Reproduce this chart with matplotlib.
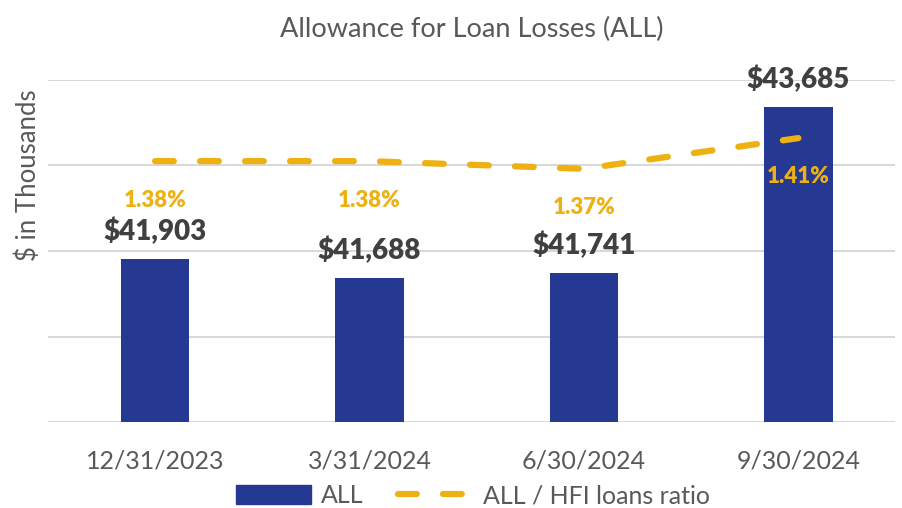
import matplotlib.pyplot as plt
import matplotlib.ticker as ticker
from matplotlib.lines import Line2D
from matplotlib.patches import Patch

plt.rcParams['font.family'] = ['Lato', 'DejaVu Sans']

# Data
dates = ['12/31/2023', '3/31/2024', '6/30/2024', '9/30/2024']
all_values = [41903, 41688, 41741, 43685]
ratio_values = [1.38, 1.38, 1.37, 1.41]
ratio_labels = ['1.38%', '1.38%', '1.37%', '1.41%']

bar_color = '#253993'
line_color = '#EDB112'
text_gray = '#595959'
label_dark = '#404040'

fig = plt.figure(figsize=(9.03, 5.08), dpi=100)
ax = fig.add_axes([0.053, 0.169, 0.938, 0.674])

x = list(range(len(dates)))
ax.bar(x, all_values, width=0.32, color=bar_color, zorder=2)
ax.set_ylim(40000, 44000)
ax.set_xlim(-0.5, 3.45)
ax.yaxis.set_major_locator(ticker.MultipleLocator(1000))
ax.grid(axis='y', color='#d9d9d9', linewidth=1.5, zorder=0)
ax.set_xticks(x)
ax.set_xticklabels(dates)
for s in ax.spines.values():
    s.set_visible(False)
ax.set_ylabel('$ in Thousands', fontsize=18.5, color=text_gray)
ax.yaxis.set_label_coords(-0.008, 0.72)
ax.set_title('Allowance for Loan Losses (ALL)', fontsize=19.5, color=text_gray, pad=31)

for xi, v in zip(x, all_values):
    ax.annotate('${:,.0f}'.format(v), (xi, v), xytext=(0, 10), textcoords='offset points',
                ha='center', va='bottom', fontsize=20, fontweight='heavy', color=label_dark)

# Secondary axis for ratio
ax2 = ax.twinx()
ax2.set_ylim(1.040, 1.486)
ax2.axis('off')
ax2.plot(x, ratio_values, color=line_color, linewidth=4.5, dashes=(3, 4.2),
         dash_capstyle='round', zorder=3)
for xi, v, lab in zip(x, ratio_values, ratio_labels):
    ax2.annotate(lab, (xi, v), xytext=(0, -28), textcoords='offset points',
                 ha='center', va='center', fontsize=16, fontweight='heavy', color=line_color)

ax.tick_params(axis='y', left=False, right=False, labelleft=False)
ax.tick_params(axis='x', length=0, labelsize=18, labelcolor=text_gray, pad=20)

handles = [Patch(color=bar_color, label='ALL'),
           Line2D([0], [0], color=line_color, linewidth=4.5, dashes=(3, 4.2),
                  dash_capstyle='round', label='ALL / HFI loans ratio')]
fig.legend(handles=handles, loc='center', bbox_to_anchor=(0.524, 0.024), ncol=2,
           frameon=False, fontsize=18, labelcolor=text_gray, handlelength=3.0,
           handleheight=0.8, columnspacing=1.4, handletextpad=0.4)

plt.savefig('out.png', dpi=100)
